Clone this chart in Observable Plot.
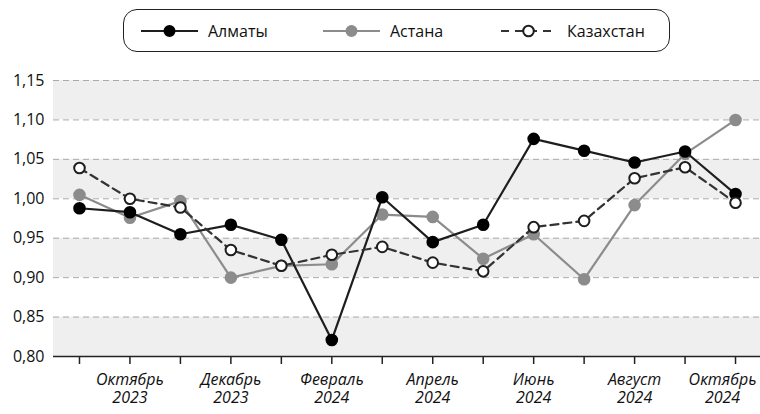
<!DOCTYPE html>
<html>
<head>
<meta charset="utf-8">
<script src="https://cdn.jsdelivr.net/npm/d3@7"></script>
<script src="https://cdn.jsdelivr.net/npm/@observablehq/plot@0.6"></script>
<style>
  body { margin: 0; background: #fff; font-family: "Open Sans", sans-serif; }
  #legend { position: relative; width: 760px; height: 64px; }
  #legend .box { position: absolute; left: 123px; top: 9px; width: 545px; height: 41px;
    border: 1.5px solid #222; border-radius: 14px; }
  #legend .item { position: absolute; top: 9px; height: 44px; display: flex; align-items: center;
    font-size: 16px; color: #111; }
  #legend svg { margin-right: 10px; }
</style>
</head>
<body>
<div id="legend"><div class="box"></div></div>
<div id="chart"></div>
<script>
// Months (September 2023 – October 2024)
const months = ["Сентябрь 2023","Октябрь 2023","Ноябрь 2023","Декабрь 2023","Январь 2024","Февраль 2024",
  "Март 2024","Апрель 2024","Май 2024","Июнь 2024","Июль 2024","Август 2024","Сентябрь 2024","Октябрь 2024"];
const tickLabels = ["", "Октябрь\n2023", "", "Декабрь\n2023", "", "Февраль\n2024", "", "Апрель\n2024",
  "", "Июнь\n2024", "", "Август\n2024", "", "Октябрь\n2024"];
const almaty =    [0.988, 0.983, 0.955, 0.967, 0.948, 0.821, 1.002, 0.945, 0.967, 1.076, 1.061, 1.046, 1.060, 1.006];
const astana =    [1.005, 0.976, 0.997, 0.900, 0.915, 0.917, 0.980, 0.977, 0.924, 0.955, 0.898, 0.992, 1.057, 1.100];
const kazakhstan = [1.039, 1.000, 0.989, 0.935, 0.915, 0.929, 0.939, 0.919, 0.908, 0.964, 0.972, 1.026, 1.040, 0.995];
const seriesNames = ["Алматы", "Астана", "Казахстан"];
const yTicks = [0.80, 0.85, 0.90, 0.95, 1.00, 1.05, 1.10, 1.15];

const toRows = (vals, name) => vals.map((v, i) => ({i, month: months[i], value: v, series: name}));
const rowsAlmaty = toRows(almaty, seriesNames[0]);
const rowsAstana = toRows(astana, seriesNames[1]);
const rowsKz = toRows(kazakhstan, seriesNames[2]);

// shaded bands: every other interval starting from the bottom
const bands = [];
for (let k = 0; k < yTicks.length - 1; k += 2) bands.push({y1: yTicks[k], y2: yTicks[k + 1]});

const fmt = v => d3.format(".2f")(v).replace(".", ",");
const lastIdx = months.length - 1;

const styles = {
  "Алматы":    {stroke: "#1e1e1e", dash: null, fill: "#000", dotStroke: "#000"},
  "Астана":    {stroke: "#8c8c8c", dash: null, fill: "#8c8c8c", dotStroke: "#8c8c8c"},
  "Казахстан": {stroke: "#333", dash: "8,5", fill: "#fff", dotStroke: "#1e1e1e"}
};

const lineMark = (rows, s) => Plot.line(rows, {x: "i", y: "value", stroke: s.stroke, strokeWidth: 2.2,
  strokeDasharray: s.dash || undefined});
const dotMark = (rows, s) => Plot.dot(rows, {x: "i", y: "value", r: 5.3, fill: s.fill, stroke: s.dotStroke,
  strokeWidth: 2});

const xLabelOpts = {tickPadding: 8, fontSize: 16, fontStyle: "italic", lineHeight: 1.1, fill: "#111", label: null};

const chart = Plot.plot({
  width: 760,
  height: 350,
  marginTop: 16,
  marginBottom: 58,
  marginLeft: 53,
  marginRight: 0,
  style: {fontFamily: "'Open Sans', sans-serif", background: "#fff"},
  x: {domain: [-0.515, 13.495], axis: null, label: null},
  y: {domain: [0.80, 1.15], axis: null, label: null},
  marks: [
    Plot.rect(bands, {y1: "y1", y2: "y2", fill: "#efefef"}),
    Plot.ruleY(yTicks.slice(1), {stroke: "#aaa", strokeWidth: 1, strokeDasharray: "6,4"}),
    Plot.axisY({ticks: yTicks, tickFormat: fmt, tickSize: 0, tickPadding: 9, fontSize: 16, fill: "#111", label: null}),
    Plot.axisX({ticks: d3.range(months.length), tickFormat: i => i === lastIdx ? "" : tickLabels[i], tickSize: 8,
      stroke: "#222", strokeWidth: 1.5, ...xLabelOpts}),
    Plot.axisX({ticks: [lastIdx], tickFormat: i => tickLabels[i], tickSize: 0, dx: -13,
      ...xLabelOpts, tickPadding: 16}),
    Plot.ruleY([0.80], {stroke: "#222", strokeWidth: 1.5}),
    lineMark(rowsAstana, styles["Астана"]),
    dotMark(rowsAstana, styles["Астана"]),
    lineMark(rowsAlmaty, styles["Алматы"]),
    dotMark(rowsAlmaty, styles["Алматы"]),
    lineMark(rowsKz, styles["Казахстан"]),
    dotMark(rowsKz, styles["Казахстан"])
  ]
});
document.getElementById("chart").appendChild(chart);

// legend
const legendPos = [141, 323, 500];
const legend = document.getElementById("legend");
seriesNames.forEach((name, k) => {
  const s = styles[name];
  const div = document.createElement("div");
  div.className = "item";
  div.style.left = legendPos[k] + "px";
  div.innerHTML = `<svg width="57" height="14"><line x1="0" x2="57" y1="7" y2="7" stroke="${s.stroke}" stroke-width="2.2" ${s.dash ? `stroke-dasharray="8,6" stroke-dashoffset="-1"` : ""}/><circle cx="28.5" cy="7" r="${name === "Казахстан" ? 5.3 : 5}" fill="${s.fill}" stroke="${s.dotStroke}" stroke-width="2"/></svg><span>${name}</span>`;
  legend.appendChild(div);
});
</script>
</body>
</html>
